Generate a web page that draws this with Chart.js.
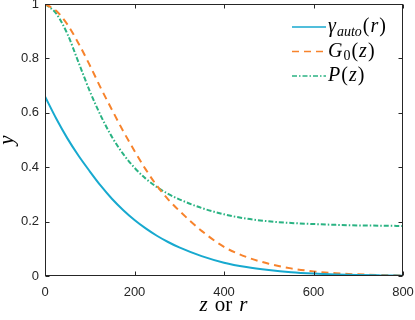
<!DOCTYPE html>
<html>
<head>
<meta charset="utf-8">
<script src="https://cdn.jsdelivr.net/npm/chart.js@4/dist/chart.umd.min.js"></script>
<style>
  html, body { margin: 0; padding: 0; background: #fff; }
  #wrap { position: relative; width: 415px; height: 320px; }
</style>
</head>
<body>
<div id="wrap"><canvas id="chart" width="415" height="320"></canvas></div>
<script>
// positions along z (or r)
const zPos = [0, 25, 50, 75, 100, 125, 150, 175, 200, 225, 250, 275, 300, 350, 400, 450, 500, 550, 600, 650, 700, 750, 800];

// series
const gammaAuto = [0.66, 0.579, 0.506, 0.442, 0.385, 0.331, 0.283, 0.242, 0.206, 0.175, 0.148, 0.125, 0.105, 0.073, 0.049, 0.033, 0.022, 0.014, 0.009, 0.0057, 0.0035, 0.0022, 0.0013];
const g0 = [1.0, 0.975, 0.925, 0.855, 0.775, 0.69, 0.61, 0.532, 0.46, 0.392, 0.332, 0.282, 0.24, 0.166, 0.107, 0.07, 0.045, 0.028, 0.017, 0.01, 0.006, 0.0035, 0.002];
const pz = [1.0, 0.965, 0.89, 0.785, 0.68, 0.588, 0.51, 0.448, 0.398, 0.358, 0.327, 0.302, 0.282, 0.25, 0.227, 0.211, 0.201, 0.195, 0.191, 0.188, 0.186, 0.185, 0.184];

// axis ticks
const xTicks = [0, 200, 400, 600, 800];
const xTickLabels = ["0", "200", "400", "600", "800"];
const yTicks = [0, 0.2, 0.4, 0.6, 0.8, 1];
const yTickLabels = ["0", "0.2", "0.4", "0.6", "0.8", "1"];

const axisColor = "#262626";
const tickFont = { family: "'Liberation Sans', Arial, sans-serif", size: 13 };
const serif = "'Liberation Serif', 'Times New Roman', serif";

const toPoints = ys => zPos.map((x, i) => ({ x: x, y: ys[i] }));

// legend text pieces (math-ish: italic letters, upright parens, subscripts)
const legendText = [
    [{ t: "γ", it: true }, { t: "auto", it: true, sub: true }, { t: "(" }, { t: "r", it: true }, { t: ")" }],
    [{ t: "G", it: true }, { t: "0", sub: true }, { t: "(" }, { t: "z", it: true }, { t: ")" }],
    [{ t: "P", it: true }, { t: "(" }, { t: "z", it: true }, { t: ")" }]
];

function mathPart(ctx, p, size) {
    const s = p.sub ? Math.round(size * 0.7) : size;
    ctx.font = (p.it ? "italic " : "") + s + "px " + serif;
    return ctx.measureText(p.t).width + (p.gap || 1);
}

function drawMath(ctx, parts, x, y, size) {
    parts.forEach(p => {
        const w = mathPart(ctx, p, size);
        ctx.fillText(p.t, x, y + (p.sub ? size * 0.25 : 0));
        x += w;
    });
    return x;
}

function mathWidth(ctx, parts, size) {
    return parts.reduce((w, p) => w + mathPart(ctx, p, size), 0);
}

const frame = {
    id: "frame",
    afterDatasetsDraw(chart) {
        const { ctx, chartArea: { left, right, top, bottom }, scales: { x, y } } = chart;
        const L = Math.round(left) + 0.5, R = Math.round(right) - 0.5;
        const T = Math.round(top) + 0.5, B = Math.round(bottom) - 0.5;
        ctx.save();
        ctx.strokeStyle = axisColor;
        ctx.lineWidth = 1;
        ctx.setLineDash([]);
        ctx.strokeRect(L, T, R - L, B - T);
        ctx.beginPath();
        xTicks.forEach(v => {
            const px = Math.round(x.getPixelForValue(v)) + 0.5;
            ctx.moveTo(px, B); ctx.lineTo(px, B - 4);
            ctx.moveTo(px, T); ctx.lineTo(px, T + 4);
        });
        yTicks.forEach(v => {
            const py = Math.round(y.getPixelForValue(v)) + 0.5;
            ctx.moveTo(L, py); ctx.lineTo(L + 4, py);
            ctx.moveTo(R, py); ctx.lineTo(R - 4, py);
        });
        ctx.stroke();

        // legend
        ctx.textBaseline = "middle";
        ctx.textAlign = "left";
        ctx.fillStyle = "#000";
        chart.data.datasets.forEach((ds, i) => {
            const ly = 27 + i * 24.5;
            ctx.strokeStyle = ds.borderColor;
            ctx.lineWidth = 1.5;
            ctx.setLineDash(ds.borderDash || []);
            ctx.beginPath();
            ctx.moveTo(292, ly); ctx.lineTo(326, ly);
            ctx.stroke();
            ctx.setLineDash([]);
            drawMath(ctx, legendText[i], 328, ly, 20);
        });

        // axis titles
        ctx.fillStyle = "#000";
        ctx.textBaseline = "alphabetic";
        const xt = [{ t: "z", it: true, gap: 7 }, { t: "or", gap: 7 }, { t: "r", it: true }];
        const w = mathWidth(ctx, xt, 21);
        drawMath(ctx, xt, (left + right) / 2 - w / 2, 311, 21);
        ctx.translate(13, (top + bottom) / 2);
        ctx.rotate(-Math.PI / 2);
        ctx.textAlign = "center";
        ctx.font = "italic 21px " + serif;
        ctx.fillText("y", 0, 0);
        ctx.restore();
    }
};

const ctx = document.getElementById("chart").getContext("2d");
const chart = new Chart(ctx, {
    type: "line",
    data: {
        datasets: [{
            label: "γauto(r)",
            data: toPoints(gammaAuto),
            borderColor: "#17A9CF",
            borderWidth: 2,
        }, {
            label: "G0(z)",
            data: toPoints(g0),
            borderColor: "#F7832C",
            borderWidth: 2,
            borderDash: [7, 5],
        }, {
            label: "P(z)",
            data: toPoints(pz),
            borderColor: "#2AB383",
            borderWidth: 2,
            borderDash: [5, 2, 1.5, 2],
        }]
    },
    options: {
        responsive: false,
        animation: false,
        layout: { padding: { top: 4, right: 12, left: 0, bottom: 0 } },
        elements: {
            point: { radius: 0 },
            line: { cubicInterpolationMode: "monotone", fill: false }
        },
        plugins: { legend: { display: false }, tooltip: { enabled: false } },
        scales: {
            x: {
                type: "linear",
                min: 0,
                max: 800,
                afterBuildTicks: s => { s.ticks = xTicks.map(v => ({ value: v })); },
                afterFit: s => { s.height = 44; s.paddingLeft = 0; s.paddingRight = 0; },
                grid: { display: false, drawTicks: false },
                border: { display: false },
                ticks: {
                    font: tickFont, color: axisColor, padding: 9,
                    maxRotation: 0, autoSkip: false,
                    callback: v => xTickLabels[xTicks.indexOf(v)]
                }
            },
            y: {
                type: "linear",
                min: 0,
                max: 1,
                afterBuildTicks: s => { s.ticks = yTicks.map(v => ({ value: v })); },
                afterFit: s => { s.width = 45; s.paddingTop = 0; s.paddingBottom = 0; },
                grid: { display: false, drawTicks: false },
                border: { display: false },
                ticks: {
                    font: tickFont, color: axisColor, padding: 6,
                    autoSkip: false,
                    callback: v => yTickLabels[yTicks.indexOf(v)]
                }
            }
        }
    },
    plugins: [frame]
});
</script>
</body>
</html>
